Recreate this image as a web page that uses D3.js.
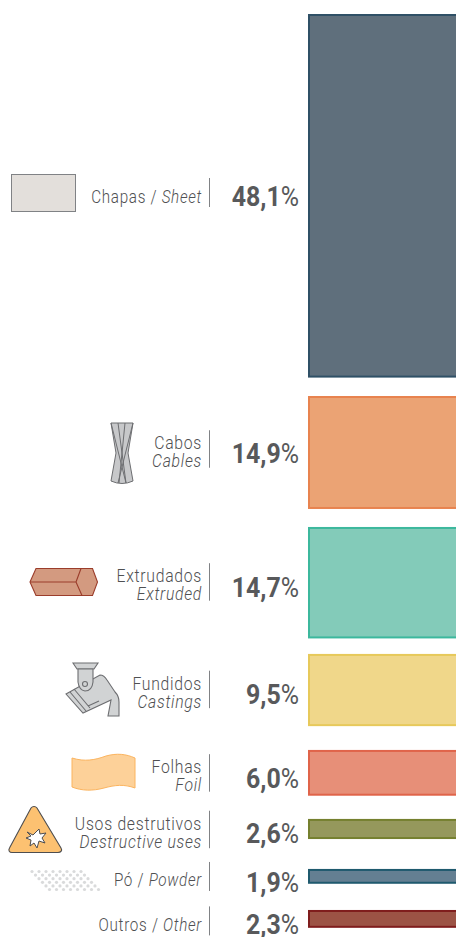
<!DOCTYPE html>
<html>
<head>
<meta charset="utf-8">
<script src="https://cdnjs.cloudflare.com/ajax/libs/d3/7.8.5/d3.min.js"></script>
<style>
html, body { margin: 0; padding: 0; background: #fff; overflow: hidden; }
text { font-family: Roboto, sans-serif; }
</style>
</head>
<body>
<script>
var categories = ["Chapas", "Cabos", "Extrudados", "Fundidos", "Folhas", "Usos destrutivos", "Pó", "Outros"];
var categoriesEn = ["Sheet", "Cables", "Extruded", "Castings", "Foil", "Destructive uses", "Powder", "Other"];
var shares = [48.1, 14.9, 14.7, 9.5, 6.0, 2.6, 1.9, 2.3];
var shareLabels = ["48,1", "14,9", "14,7", "9,5", "6,0", "2,6", "1,9", "2,3"];
var oneLine = [true, false, false, false, false, false, true, true];
var fills = ["#5f6f7c", "#eba374", "#83cbb9", "#f0d78a", "#e78f78", "#95985c", "#647f92", "#9c5345"];
var strokes = ["#2f5066", "#e8834f", "#3cb89d", "#e7c95b", "#e0644a", "#75802f", "#1f5a6e", "#7f1d1d"];

// layout, in pixels
var width = 456,
    height = 937,
    barX = 309,
    firstTop = 15,
    gaps = [20.4, 20, 17.5, 25.8, 25.2, 31.9, 28.2], // space under each bar
    sepShift = [-3.3, -3.5, -0.75, -0.6, 0.1, 0.5, 0.1, 2], // separator centre vs bar centre
    valueShift = [10.5, 10.5, 14, 13.9, 15.1, 14, 15.6, 15.5]; // value baseline vs bar centre

var svg = d3.select("body").append("svg")
    .attr("width", width)
    .attr("height", height)
    .style("display", "block");

var h = d3.scaleLinear().domain([0.2, 48.1]).range([0, 361.6]);

// stack the bars from top to bottom
var tops = [];
shares.reduce(function(y, d, i) {
    tops.push(y);
    return y + h(d) + (gaps[i] || 0);
}, firstTop);

var rows = d3.range(shares.length);
var mid = function(i) { return tops[i] + h(shares[i]) / 2; };

svg.selectAll("rect.bar")
    .data(rows)
    .enter().append("rect")
    .attr("class", "bar")
    .attr("x", barX)
    .attr("y", function(i) { return tops[i]; })
    .attr("width", 160)
    .attr("height", function(i) { return h(shares[i]); })
    .style("fill", function(i) { return fills[i]; })
    .style("stroke", function(i) { return strokes[i]; })
    .style("stroke-width", 2);

// percentage values
var values = svg.selectAll("text.value")
    .data(rows)
    .enter().append("text")
    .attr("class", "value")
    .attr("text-anchor", "end")
    .attr("transform", function(i) {
        return "translate(299," + (mid(i) + valueShift[i]) + ") scale(0.89,1)";
    })
    .style("font-size", "28px")
    .style("fill", "#58595b");

values.append("tspan")
    .style("font-weight", 700)
    .text(function(i) { return shareLabels[i]; });
values.append("tspan")
    .style("font-weight", 400)
    .text("%");

// separators
svg.selectAll("line.sep")
    .data(rows)
    .enter().append("line")
    .attr("class", "sep")
    .attr("x1", 209.5)
    .attr("x2", 209.5)
    .attr("y1", function(i) { return sepTop(i); })
    .attr("y2", function(i) { return sepTop(i) + (oneLine[i] ? 29 : 37.5); })
    .style("stroke", "#808285")
    .style("stroke-width", 1);

function sepTop(i) {
    return mid(i) + sepShift[i] - (oneLine[i] ? 14.5 : 18.75);
}

// labels
var labels = svg.selectAll("g.label")
    .data(rows)
    .enter().append("g")
    .attr("class", "label")
    .style("font-size", "17.5px")
    .style("font-weight", 300)
    .style("letter-spacing", "0.8px")
    .style("fill", "#4f5052");

labels.each(function(i) {
    var g = d3.select(this);
    if (oneLine[i]) {
        var t = g.append("text")
            .attr("text-anchor", "end")
            .attr("transform", "translate(202," + (sepTop(i) + 24.5) + ") scale(0.87,1)");
        t.append("tspan").text(categories[i] + " / ");
        t.append("tspan").style("font-style", "italic").text(categoriesEn[i]);
    } else {
        g.append("text")
            .attr("text-anchor", "end")
            .attr("transform", "translate(202," + (sepTop(i) + 19) + ") scale(0.9,1)")
            .text(categories[i]);
        g.append("text")
            .attr("text-anchor", "end")
            .attr("transform", "translate(202," + (sepTop(i) + 37) + ") scale(0.9,1)")
            .style("font-style", "italic")
            .text(categoriesEn[i]);
    }
});

// icons
var icons = svg.append("g");

// sheet
icons.append("rect")
    .attr("x", 11.5).attr("y", 174.5).attr("width", 64).attr("height", 37)
    .style("fill", "#e3dfdb").style("stroke", "#808285");

// cables
var cables = icons.append("g").style("stroke", "#6d6e71").style("stroke-width", 1).style("fill", "#c7c8ca");
cables.append("path").attr("d", "M111 423L133 423L128 453L133 481Q122 486 111 481L116 453Z");
cables.append("path").attr("d", "M118 423L126 483M125 423L119 483M111 423L126 483M133 423L118 483").style("fill", "none");

// extruded bar
var bar = icons.append("g").style("fill", "#d39a80").style("stroke", "#9b3d2b").style("stroke-width", 1.1);
bar.append("path").attr("d", "M30 582L36 568.5L92.5 568.5L97.5 582L92.5 595.5L36 595.5Z");
bar.append("path").attr("d", "M30 582L76 582M76 582L81 568.5M76 582L82 595.5").style("fill", "none");

// casting ladle
var ladle = icons.append("g").style("fill", "#d1d3d4").style("stroke", "#6d6e71").style("stroke-width", 1.1);
ladle.append("path").attr("d", "M66 694L100 675Q104 675 107 680L115 692Q119 696 119 702L119 716L108 716L111 700L83 713Z");
ladle.append("path").attr("d", "M70 692L86 711M74 689L90 708M88 706L99 701").style("fill", "none");
ladle.append("path").attr("d", "M73 663L98 663L94 669L77 669Z");
ladle.append("path").attr("d", "M78 669L93 669L93 682Q92 691 85 691Q79 690 78 682Z");
ladle.append("circle").attr("cx", 85).attr("cy", 684).attr("r", 2.5);

// foil
icons.append("path")
    .attr("d", "M72 758C85 762 95 760 106 756C117 753 126 754 135 758L135 788C124 784 115 785 104 788C93 791 82 791 72 787Z")
    .style("fill", "#fdd199")
    .style("stroke", "#fbb45f");

// warning triangle
icons.append("path")
    .attr("d", "M31 808C32.5 806 35.5 806 37 808L61 848C62.5 850.5 61 852.5 58 852.5L12 852.5C9.5 852.5 8 850.5 9.5 848Z")
    .style("fill", "#fcc171")
    .style("stroke", "#4d4d4f")
    .style("stroke-width", 1.1);
icons.append("path")
    .attr("d", "M27 832L33 835L39 829L40 834L46 833L42 838L45 843L39 841L37 848L34 843L30 846L31 840L26 838L31 836Z")
    .style("fill", "#fff")
    .style("stroke", "#4d4d4f")
    .style("stroke-width", 1);

// powder: staggered dots forming a slanted band
var powderRows = d3.range(6);
icons.selectAll("g.powder")
    .data(powderRows)
    .enter().append("g")
    .attr("class", "powder")
    .selectAll("circle")
    .data(function(r) {
        return d3.range(8).map(function(c) {
            return { r: r, c: c };
        });
    })
    .enter().append("circle")
    .attr("cx", function(d) { return 32 + d.r * 3.5 + d.c * 7; })
    .attr("cy", function(d) { return 871.5 + d.r * 3.6; })
    .attr("r", 1.6)
    .style("fill", "#d9dadb");
</script>
</body>
</html>
